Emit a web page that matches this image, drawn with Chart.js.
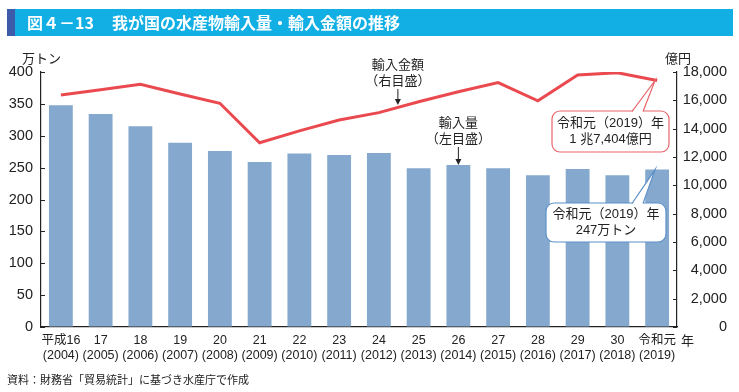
<!DOCTYPE html>
<html lang="ja">
<head>
<meta charset="utf-8">
<title>我が国の水産物輸入量・輸入金額の推移</title>
<script src="https://cdn.jsdelivr.net/npm/chart.js@4.4.1/dist/chart.umd.min.js"></script>
<style>
  html, body { margin: 0; padding: 0; background: #fff; }
  #wrap { width: 739px; height: 392px; }
</style>
</head>
<body>
<div id="wrap"><canvas id="detailChart" width="739" height="392"></canvas></div>
<script>
// 年次ラベル（和暦 / 西暦）
var eraLabels = ['平成16', '17', '18', '19', '20', '21', '22', '23', '24', '25', '26', '27', '28', '29', '30', '令和元'];
var yearLabels = ['(2004)', '(2005)', '(2006)', '(2007)', '(2008)', '(2009)', '(2010)', '(2011)',
                  '(2012)', '(2013)', '(2014)', '(2015)', '(2016)', '(2017)', '(2018)', '(2019)'];

// 輸入量（万トン, 左目盛）
var importVolume = [348, 334, 315, 289, 276, 259, 272, 270, 273, 249, 254, 249, 238, 248, 238, 247];
// 輸入金額（億円, 右目盛）
var importValue = [16380, 16750, 17130, 16450, 15790, 13010, 13840, 14610, 15130, 15900, 16610, 17250, 15970, 17790, 17950, 17404];

// 目盛
var volumeTicks = [0, 50, 100, 150, 200, 250, 300, 350, 400];
var valueTicks = [0, 2000, 4000, 6000, 8000, 10000, 12000, 14000, 16000, 18000];

var FONT = "'Liberation Sans', 'Noto Sans CJK JP', sans-serif";
var JP = "'Noto Sans CJK JP', sans-serif";
var INK = '#222';
var BAR = '#85a9ce';
var RED = '#ea4a4f';

var labels = eraLabels.map(function (e, i) { return [e, yearLabels[i]]; });

function text(ctx, s, x, y, font, align, color) {
    ctx.font = font;
    ctx.textAlign = align || 'left';
    ctx.textBaseline = 'middle';
    ctx.fillStyle = color || INK;
    ctx.fillText(s, x, y);
}

function arrowDown(ctx, x, y1, y2) {
    ctx.strokeStyle = INK;
    ctx.fillStyle = INK;
    ctx.lineWidth = 1;
    ctx.beginPath();
    ctx.moveTo(x, y1);
    ctx.lineTo(x, y2 - 4);
    ctx.stroke();
    ctx.beginPath();
    ctx.moveTo(x - 3, y2 - 6);
    ctx.lineTo(x + 3, y2 - 6);
    ctx.lineTo(x, y2);
    ctx.closePath();
    ctx.fill();
}

function callout(ctx, box, base, tip, color, lines) {
    var r = 8;
    ctx.lineWidth = 1.2;
    ctx.strokeStyle = color;
    ctx.fillStyle = '#fff';
    ctx.beginPath();
    ctx.roundRect(box.x, box.y, box.w, box.h, r);
    ctx.fill();
    ctx.stroke();
    // pointer
    ctx.beginPath();
    ctx.moveTo(base[0], box.y + 1.5);
    ctx.lineTo(tip[0], tip[1]);
    ctx.lineTo(base[1], box.y + 1.5);
    ctx.closePath();
    ctx.fill();
    ctx.beginPath();
    ctx.moveTo(base[0], box.y + 0.5);
    ctx.lineTo(tip[0], tip[1]);
    ctx.lineTo(base[1], box.y + 0.5);
    ctx.stroke();
    var cx = box.x + box.w / 2;
    text(ctx, lines[0], cx, box.y + box.h / 2 - 8, '13px ' + FONT, 'center');
    text(ctx, lines[1], cx, box.y + box.h / 2 + 8, '13px ' + FONT, 'center');
}

var decor = {
    id: 'decor',
    beforeDraw: function (chart) {
        var ctx = chart.ctx;
        ctx.save();
        // title band
        ctx.fillStyle = '#12afe4';
        ctx.fillRect(7, 9, 726, 27);
        ctx.fillStyle = '#3e5ba9';
        ctx.fillRect(7, 9, 8, 27);
        text(ctx, '図４－13', 27, 23, 'bold 16px ' + JP, 'left', '#fff');
        text(ctx, '我が国の水産物輸入量・輸入金額の推移', 112, 23, 'bold 16px ' + JP, 'left', '#fff');
        // units
        text(ctx, '万トン', 22, 58, '13px ' + JP);
        text(ctx, '億円', 665, 58, '13px ' + JP);
        text(ctx, '年', 681, 340, '13px ' + JP);
        // source
        text(ctx, '資料：財務省「貿易統計」に基づき水産庁で作成', 7, 380, '11px ' + JP);
        ctx.restore();
    },
    afterDatasetsDraw: function (chart) {
        var ctx = chart.ctx;
        var x = chart.scales.x, y = chart.scales.y, y2 = chart.scales.y2;
        ctx.save();
        // inward tick marks
        ctx.strokeStyle = INK;
        ctx.lineWidth = 1;
        volumeTicks.forEach(function (v) {
            var py = Math.round(y.getPixelForValue(v)) + 0.5;
            ctx.beginPath();
            ctx.moveTo(y.right, py);
            ctx.lineTo(y.right + 4, py);
            ctx.stroke();
        });
        valueTicks.forEach(function (v) {
            var py = Math.round(y2.getPixelForValue(v)) + 0.5;
            ctx.beginPath();
            ctx.moveTo(y2.left, py);
            ctx.lineTo(y2.left - 4, py);
            ctx.stroke();
        });

        // 輸入金額 label
        var lx = x.getPixelForValue(8) + 19;
        text(ctx, '輸入金額', lx, 64, '13px ' + JP, 'center');
        text(ctx, '（右目盛）', lx, 80, '13px ' + JP, 'center');
        arrowDown(ctx, lx, 89, 105);

        // 輸入量 label
        var vx = x.getPixelForValue(10);
        text(ctx, '輸入量', vx, 122, '13px ' + JP, 'center');
        text(ctx, '（左目盛）', vx, 138, '13px ' + JP, 'center');
        arrowDown(ctx, vx, 147, y.getPixelForValue(importVolume[10]));

        // callouts for 2019
        var last = importValue.length - 1;
        var tx = x.getPixelForValue(last) - 2;
        callout(ctx, { x: 552, y: 111, w: 117, h: 41 }, [632, 643],
            [tx, y2.getPixelForValue(importValue[last])], '#e8656a',
            ['令和元（2019）年', '1 兆7,404億円']);
        callout(ctx, { x: 546, y: 203, w: 120, h: 39 }, [632, 643],
            [tx, y.getPixelForValue(importVolume[last])], '#5b8fc7',
            ['令和元（2019）年', '247万トン']);
        ctx.restore();
    }
};

var ctx = document.getElementById('detailChart');
var detail = new Chart(ctx, {
    type: 'bar',
    data: {
        labels: labels,
        datasets: [{
            type: 'line',
            label: '輸入金額',
            data: importValue,
            yAxisID: 'y2',
            borderColor: RED,
            borderWidth: 3,
            pointRadius: 0,
            tension: 0,
            order: 0
        }, {
            label: '輸入量',
            data: importVolume,
            yAxisID: 'y',
            backgroundColor: BAR,
            barPercentage: 0.6,
            categoryPercentage: 1,
            order: 1
        }]
    },
    options: {
        responsive: false,
        animation: false,
        devicePixelRatio: 1,
        layout: { padding: { top: 72, left: 0, right: 12, bottom: 0 } },
        plugins: { legend: { display: false }, tooltip: { enabled: false } },
        scales: {
            x: {
                grid: { display: false, drawTicks: false },
                border: { color: INK, width: 1.2 },
                ticks: { color: INK, font: { family: FONT, size: 12.5 }, padding: 6, maxRotation: 0, autoSkip: false },
                afterFit: function (s) { s.height = 65; }
            },
            y: {
                position: 'left',
                min: 0, max: 400,
                afterBuildTicks: function (s) { s.ticks = volumeTicks.map(function (v) { return { value: v }; }); },
                grid: { drawOnChartArea: false, drawTicks: false },
                border: { color: INK, width: 1.2 },
                ticks: { color: INK, font: { family: FONT, size: 14.5 }, padding: 8 },
                afterFit: function (s) { s.width = 41; }
            },
            y2: {
                position: 'right',
                min: 0, max: 18000,
                afterBuildTicks: function (s) { s.ticks = valueTicks.map(function (v) { return { value: v }; }); },
                grid: { drawOnChartArea: false, drawTicks: false },
                border: { color: INK, width: 1.2 },
                ticks: {
                    color: INK, font: { family: FONT, size: 14.5 }, padding: 6, crossAlign: 'far',
                    callback: function (v) { return v.toLocaleString('en-US'); }
                },
                afterFit: function (s) { s.width = 50; }
            }
        }
    },
    plugins: [decor]
});
</script>
</body>
</html>
